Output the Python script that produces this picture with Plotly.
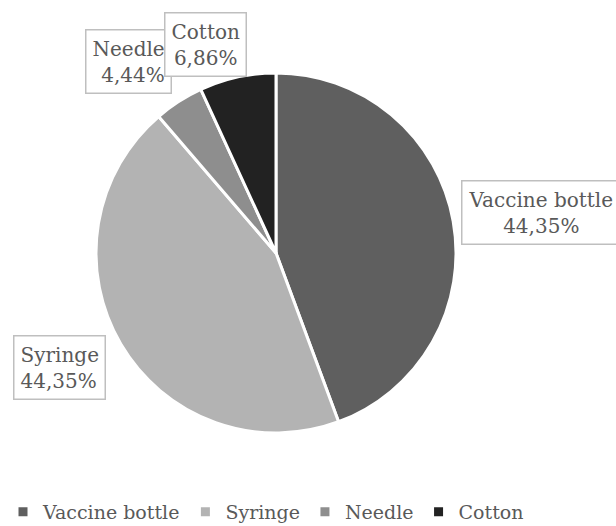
import plotly.graph_objects as go

categories = ["Vaccine bottle", "Syringe", "Needle", "Cotton"]
values = [44.35, 44.35, 4.44, 6.86]
colors = ["#5f5f5f", "#b3b3b3", "#8e8e8e", "#222222"]

W, H = 616, 526
FONT = "DejaVu Serif"
TXT = "#595959"

cx, cy, r = 276, 253, 180
fig = go.Figure(go.Pie(
    labels=categories, values=values, sort=False, direction="clockwise", rotation=0,
    marker=dict(colors=colors, line=dict(color="white", width=3)),
    textinfo="none", hoverinfo="label+percent",
    domain=dict(x=[(cx - r) / W, (cx + r) / W], y=[(H - cy - r) / H, (H - cy + r) / H]),
))

def fmt(v):
    return f"{v:.2f}".replace(".", ",") + "%"

# label box anchor (pixels), x-anchor and alignment
label_pos = {
    "Vaccine bottle": (541, 213, "center", "center"),
    "Syringe": (13, 367, "left", "left"),
    "Needle": (128, 61, "center", "right"),
    "Cotton": (206, 44, "center", "center"),
}
annotations = []
for cat, v in zip(categories, values):
    px, py, xa, al = label_pos[cat]
    annotations.append(dict(
        x=px / W, y=1 - py / H, xref="paper", yref="paper",
        xanchor=xa, yanchor="middle",
        text=f"{cat}<br>{fmt(v)}", showarrow=False, align=al,
        font=dict(family=FONT, size=20, color=TXT),
        bgcolor="white", bordercolor="#bfbfbf", borderwidth=1.5, borderpad=6,
    ))
fig.update_layout(
    width=W, height=H, margin=dict(l=0, r=0, t=0, b=0, autoexpand=False),
    paper_bgcolor="white", plot_bgcolor="white",
    annotations=annotations,
    showlegend=True,
    legend=dict(orientation="h", x=3 / W, xanchor="left",
                y=1 - 512 / H, yanchor="middle",
                font=dict(family=FONT, size=19, color=TXT), itemwidth=30,
                traceorder="normal"),
)
fig.write_html("out.html", config={"displayModeBar": False},
               post_script="document.body.style.margin='0';")
